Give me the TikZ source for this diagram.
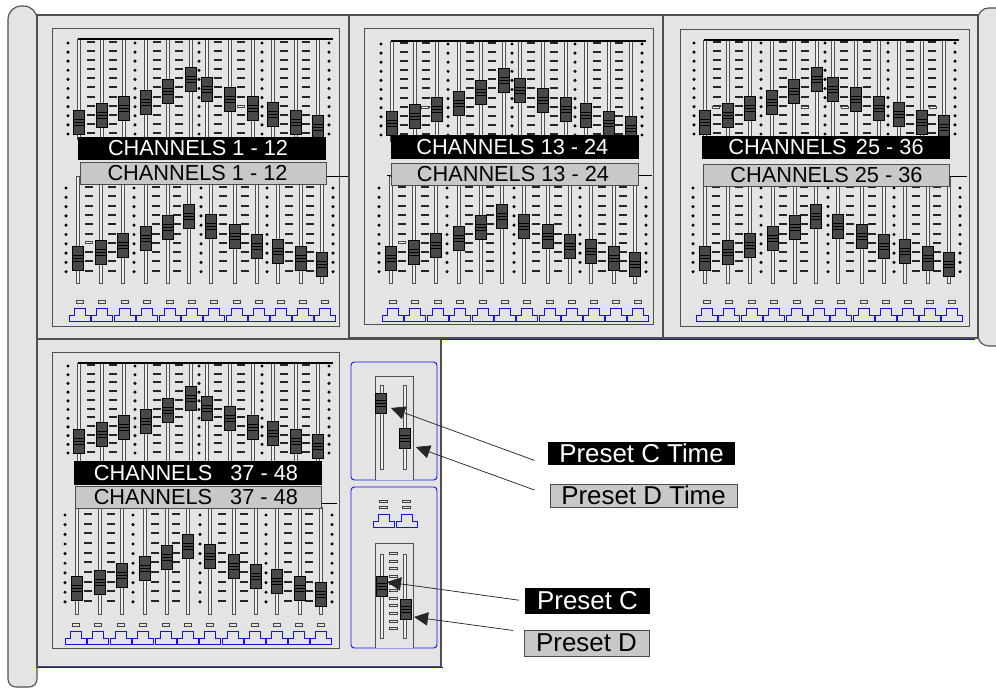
\documentclass[tikz,border=0pt]{standalone}
\usepackage{fontspec}
\setmainfont{Liberation Sans}
\usetikzlibrary{arrows.meta}

\definecolor{panelgrey}{HTML}{E4E4E4}
\definecolor{labelgrey}{HTML}{C8C8C8}
\definecolor{knobgrey}{HTML}{484848}
\definecolor{edgegrey}{HTML}{505050}
\definecolor{capblue}{HTML}{1010F0}

\tikzset{
	panel/.style={draw=edgegrey, line width=0.85pt, fill=panelgrey},
	inset/.style={draw=edgegrey, line width=0.7pt, fill=panelgrey},
	sidebox/.style={draw=capblue, line width=0.7pt, fill=panelgrey, rounded corners=2.5pt},
	track/.style={draw=edgegrey, line width=0.6pt, fill=panelgrey!60!white},
	knob/.style={draw=black, line width=0.5pt, fill=knobgrey},
	slot/.style={fill=black!85},
	hollow/.style={draw=black!70, line width=0.45pt, fill=white},
	led/.style={draw=black!75, line width=0.45pt, fill=panelgrey},
	capline/.style={draw=capblue, line width=0.7pt},
	blacklabel/.style={fill=black, text=white, font=\fontsize{16.3}{18}\selectfont, minimum width=186pt, minimum height=17.5pt, inner sep=0pt},
	greylabel/.style={draw=black!70, line width=0.6pt, fill=labelgrey, font=\fontsize{16.3}{18}\selectfont, minimum width=185pt, minimum height=16.5pt, inner sep=0pt},
	blacktag/.style={fill=black, text=white, font=\fontsize{19.4}{20}\selectfont, inner sep=0pt},
	greytag/.style={draw=black!70, line width=0.6pt, fill=labelgrey, font=\fontsize{19.4}{20}\selectfont, inner sep=0pt},
	pointer/.style={-{Triangle[length=10.5pt,width=10pt]}, line width=0.55pt, draw=black!85}
}

\newcommand{\faderknob}[3]{
	\draw[knob] (#1-5.2,#2-#3/2) rectangle (#1+5.2,#2+#3/2);
	\foreach \s in {-3,0,3}
		\draw[line width=0.5pt] (#1-5.2,#2+\s) -- (#1+5.2,#2+\s);
}
\newcommand{\scalerow}[4]{
	\foreach \i in {0,...,#4}
		\fill[slot] (#1-4,#2+\i*#3-1) rectangle (#1+4,#2+\i*#3+1);
}
\newcommand{\dotrow}[4]{
	\foreach \i in {0,...,#4}
		\fill (#1,#2+\i*#3) circle (1.7);
}
% dx, y of top line, y of first mark, mark step, knob shift
\newcommand{\upperbank}[5]{
	\begin{scope}[shift={(#1,0)}]
		\foreach \x in {79,102,124,146,168,191,207,230,253,273,296,318}
			\draw[track] (\x-1.8,#2) rectangle (\x+1.8,#2+100);
		\draw[line width=0.9pt] (78,#2) -- (333,#2);
		\foreach \x in {91,113,157,179,218,241,284,306}{
			\scalerow{\x}{#3}{#4}{10}
		}
		\foreach \x in {68,135,199,262,329}{
			\dotrow{\x}{#3+1}{#4}{10}
		}
		\foreach \x/\y in {79/122,102/115,124/108,146/102,168/91,191/79,207/89,230/99,253/108,273/114,296/122,318/127}{
			\faderknob{\x}{\y+#5}{24}
		}
	\end{scope}
}
% dx, y of track bottom, y of first mark, mark step, knob shift
\newcommand{\lowerbank}[5]{
	\begin{scope}[shift={(#1,0)}]
		\foreach \x in {78,101,123,146,168,189,211,235,257,278,301,322}
			\draw[track] (\x-1.8,#2-107) rectangle (\x+1.8,#2);
		\foreach \x in {89,112,156,177,223,245,289,310}{
			\scalerow{\x}{#3}{#4}{9}
		}
		\foreach \x in {66,134,201,267,333}{
			\dotrow{\x}{#3+1}{#4}{9}
		}
		\foreach \x/\y in {78/258,101/252,123/245,146/238,168/227,189/216,211/226,235/236,257/246,278/251,301/258,322/264}{
			\faderknob{\x}{\y+#5}{24}
		}
	\end{scope}
}
\newcommand{\capshape}[2]{
	\draw[capline] (#1-10.5,#2) -- (#1-10.5,#2-6) -- (#1-5.5,#2-6) -- (#1-5.5,#2-13) -- (#1+5.5,#2-13)
		-- (#1+5.5,#2-6) -- (#1+10.5,#2-6) -- (#1+10.5,#2) -- cycle;
}
\newcommand{\buttonrow}[2]{
	\foreach \x in {80,102,125,147,170,192,214,237,259,281,303,325}{
		\draw[led] (\x+#1-3.5,#2-20.5) rectangle (\x+#1+3.5,#2-18);
		\capshape{\x+#1}{#2}
	}
}

\begin{document}
\begin{tikzpicture}[x=0.75pt, y=-0.75pt]
	\useasboundingbox (0,0) rectangle (996,688);

	% rails at both ends
	\draw[panel] (8,340) [rounded corners=10pt] -- (8,6) -- (37,6) [rounded corners=6pt] -- (37,687) -- (8,687) -- cycle;
	\draw[panel] (1000,346) [rounded corners=8pt] -- (978,346) -- (978,8) [sharp corners] -- (1000,8);

	% modules
	\draw[panel] (37,15) rectangle (349,339);
	\draw[panel] (349,15) rectangle (663,338);
	\draw[panel] (663,15) rectangle (978,338);
	\draw[panel] (37,339) rectangle (441,667);
	\draw[capblue, line width=0.7pt] (441,339) -- (975,339);
	\draw[capblue, line width=0.7pt] (38,667) -- (443,667);
	\draw[inset] (52,28) rectangle (339,326);
	\draw[inset] (364,28) rectangle (653,324);
	\draw[inset] (680,29) rectangle (969,326);
	\draw[inset] (52,352) rectangle (339,648);

	\upperbank{0}{39}{42}{9.1}{0}
	\lowerbank{0}{283}{187}{9.3}{0}
	\buttonrow{0}{321}
	\upperbank{313}{41}{43}{9.1}{1}
	\lowerbank{313}{283}{187}{9.3}{0}
	\buttonrow{313}{321}
	\upperbank{626}{40}{42}{9.1}{0.5}
	\lowerbank{627}{283}{187}{9.3}{0}
	\buttonrow{627}{321}
	\upperbank{0}{363}{365}{8.7}{319}
	\lowerbank{-1}{614}{514}{9.65}{330}
	\buttonrow{-4.5}{644}

	% odd marks that are not filled
	\foreach \x/\y in {89/242,241/106,402/242,425/107,716/107,805/107,845/107,933/107}
		\draw[hollow] (\x-3.5,\y-1) rectangle (\x+3.5,\y+1);

	% short lines that stick out behind the labels
	\draw[line width=0.7pt] (322,176) -- (348,176);
	\draw[line width=0.7pt] (387,175) -- (652,175);
	\draw[line width=0.7pt] (945,176) -- (967,176);
	\draw[line width=0.7pt] (318,503) -- (337,503);

	\node[blacklabel] (blackone) at (202,148.5) {CHANNELS 1 - 12\hspace*{6pt}};
	\node[greylabel] (greyone) at (203.5,173.5) {CHANNELS 1 - 12\hspace*{9pt}};
	\node[blacklabel] (blacktwo) at (515,147) {CHANNELS 13 - 24\hspace*{4pt}};
	\node[greylabel] (greytwo) at (515,174) {CHANNELS 13 - 24\hspace*{3pt}};
	\node[blacklabel] (blackthree) at (826,147.5) {CHANNELS\hspace{7pt}25 - 36};
	\node[greylabel] (greythree) at (826.5,175) {CHANNELS 25 - 36};
	\node[blacklabel] (blackfour) at (198,473) {CHANNELS\ \ \ 37 - 48\hspace*{3pt}};
	\node[greylabel] (greyfour) at (198.5,497.5) {CHANNELS\ \ \ 37 - 48\hspace*{4pt}};

	% master section
	\draw[sidebox] (351,362) rectangle (437,480);
	\draw[sidebox] (351,487) rectangle (437,648);
	\draw[inset] (375,480) -- (375,376) -- (413,376) -- (413,480);
	\draw[inset] (375,648) -- (375,543) -- (413,543) -- (413,648);
	\foreach \x in {382,405}{
		\draw[track] (\x-1.6,385) rectangle (\x+1.6,469);
		\draw[track] (\x-1.6,554) rectangle (\x+1.6,638);
	}
	\foreach \y in {553,561,568,576,583,590,598,605,613,621,628}
		\draw[led] (389,\y-1) rectangle (397,\y+1);
	\faderknob{381}{403}{20}
	\faderknob{405}{438}{20}
	\faderknob{382}{586}{20}
	\faderknob{406}{609}{20}
	\foreach \x in {383,406}{
		\draw[led] (\x-4,500) rectangle (\x+4,502);
		\draw[led] (\x-4,506) rectangle (\x+4,508);
	}
	\capshape{383.5}{527}
	\capshape{407}{527}

	\node[blacktag, minimum width=140.25pt, minimum height=17.25pt] (presetctime) at (641.5,453.5) {Preset C Time};
	\node[greytag, minimum width=140.25pt, minimum height=17.25pt] (presetdtime) at (643.5,495.5) {Preset D Time};
	\node[blacktag, minimum width=93.75pt, minimum height=19.5pt] (presetc) at (587.5,601) {Preset C};
	\node[greytag, minimum width=93.75pt, minimum height=19.5pt] (presetd) at (586.5,643) {Preset D};

	\coordinate (ctimetip) at (391,408);
	\coordinate (dtimetip) at (416,447);
	\coordinate (ctip) at (387,582);
	\coordinate (dtip) at (414,617);
	\draw[pointer, shorten <=10.5pt] (presetctime.south west) -- (ctimetip);
	\draw[pointer, shorten <=12pt] (presetdtime.west) -- (dtimetip);
	\draw[pointer, shorten <=4.5pt] (presetc.west) -- (ctip);
	\draw[pointer, shorten <=8pt] (presetd.170) -- (dtip);
\end{tikzpicture}
\end{document}
